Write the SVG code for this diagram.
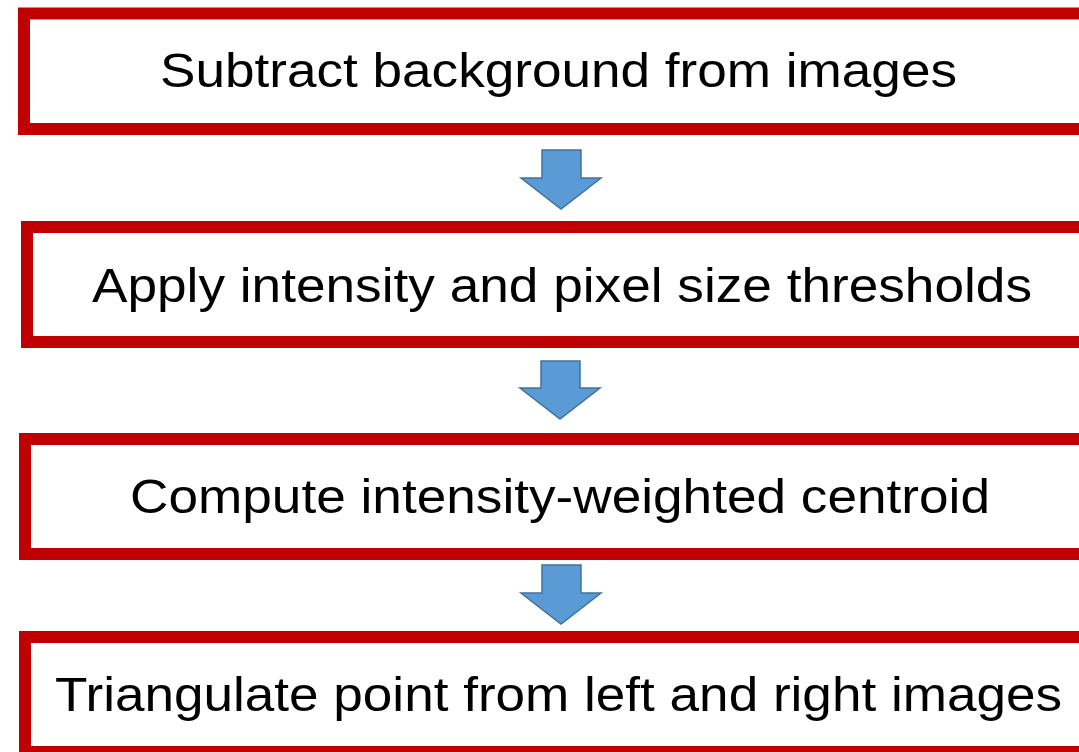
<svg xmlns="http://www.w3.org/2000/svg" width="1079" height="752" viewBox="0 0 1079 752">
  <style>
    .box { fill: #ffffff; stroke: #c00000; stroke-width: 12; }
    .label { font-family: "Liberation Sans", Arial, sans-serif; font-size: 48px; fill: #000000; text-anchor: middle; }
    .arrow { fill: #5b9bd5; stroke: #41719c; stroke-width: 1.5; stroke-linejoin: miter; }
  </style>
  <rect width="1079" height="752" fill="#ffffff"/>

  <g id="step1">
    <rect class="box" x="24" y="13.5" width="1100" height="115.5"/>
    <text class="label" x="558.5" y="87" textLength="797" lengthAdjust="spacingAndGlyphs">Subtract background from images</text>
  </g>

  <g id="step2">
    <rect class="box" x="27" y="227" width="1100" height="115"/>
    <text class="label" x="562" y="302" textLength="940" lengthAdjust="spacingAndGlyphs">Apply intensity and pixel size thresholds</text>
  </g>

  <g id="step3">
    <rect class="box" x="25" y="439" width="1100" height="115"/>
    <text class="label" x="560" y="513" textLength="860" lengthAdjust="spacingAndGlyphs">Compute intensity-weighted centroid</text>
  </g>

  <g id="step4">
    <rect class="box" x="25" y="637" width="1100" height="115"/>
    <text class="label" x="558.5" y="711" textLength="1007" lengthAdjust="spacingAndGlyphs">Triangulate point from left and right images</text>
  </g>

  <g id="connectors">
    <polygon class="arrow" points="542,150 581,150 581,178 601,178 561,209 521,178 542,178"/>
    <polygon class="arrow" points="541,361 580,361 580,388 600,388 560,419 520,388 541,388"/>
    <polygon class="arrow" points="542,565 581,565 581,593 601,593 561,624 521,593 542,593"/>
  </g>
</svg>
